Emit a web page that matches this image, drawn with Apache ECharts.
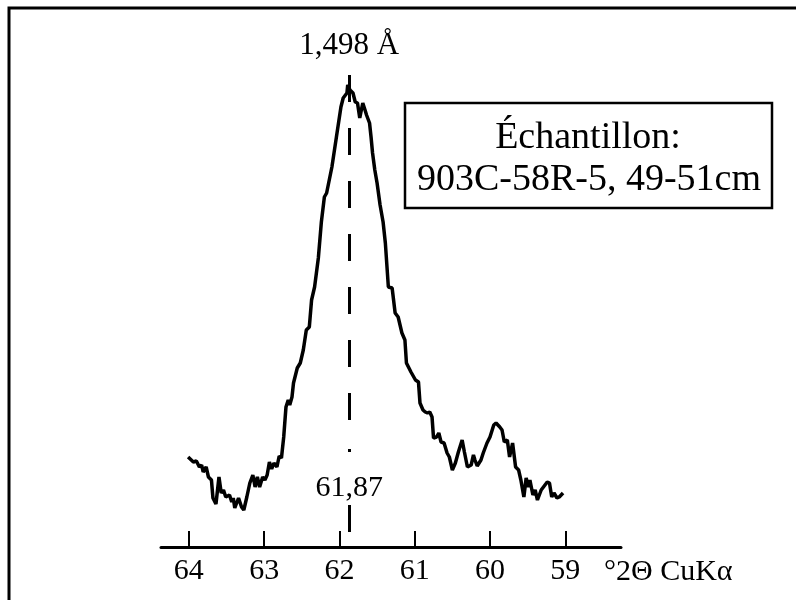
<!DOCTYPE html>
<html>
<head>
<meta charset="utf-8">
<script src="https://cdn.jsdelivr.net/npm/echarts@6/dist/echarts.min.js"></script>
<style>
  html, body { margin: 0; padding: 0; background: #fff; }
  #chart { width: 796px; height: 600px; }
</style>
</head>
<body>
<div id="chart"></div>
<script>
// Diffractogram of the (060) reflection, sample 903C-58R-5, 49-51 cm
const twoTheta = [
  64.01, 63.94, 63.90, 63.86, 63.83, 63.81, 63.77, 63.74, 63.70, 63.68,
  63.64, 63.60, 63.57, 63.54, 63.51, 63.46, 63.43, 63.41, 63.39, 63.34,
  63.30, 63.27, 63.23, 63.19, 63.15, 63.12, 63.09, 63.06, 63.02, 62.99,
  62.96, 62.93, 62.90, 62.87, 62.83, 62.80, 62.77, 62.74, 62.71, 62.68,
  62.66, 62.63, 62.61, 62.56, 62.52, 62.48, 62.44, 62.40, 62.37, 62.33,
  62.28, 62.24, 62.20, 62.17, 62.10, 62.04, 61.98, 61.95, 61.90, 61.89,
  61.86, 61.82, 61.79, 61.76, 61.73, 61.69, 61.66, 61.64, 61.60, 61.58,
  61.56, 61.53, 61.50, 61.46, 61.42, 61.39, 61.35, 61.30, 61.26, 61.22,
  61.17, 61.13, 61.11, 61.05, 60.99, 60.95, 60.93, 60.89, 60.86, 60.83,
  60.80, 60.77, 60.75, 60.71, 60.68, 60.65, 60.61, 60.57, 60.54, 60.50,
  60.46, 60.42, 60.37, 60.34, 60.30, 60.25, 60.22, 60.20, 60.17, 60.12,
  60.09, 60.04, 60.00, 59.95, 59.92, 59.87, 59.84, 59.81, 59.77, 59.74,
  59.70, 59.66, 59.62, 59.59, 59.55, 59.52, 59.49, 59.47, 59.43, 59.40,
  59.37, 59.32, 59.29, 59.24, 59.21, 59.18, 59.15, 59.11, 59.08, 59.03
];
const counts = [
  90, 85, 86, 80, 82, 75, 80, 70, 67, 49,
  43, 70, 54, 57, 50, 52, 45, 49, 39, 49,
  40, 37, 50, 64, 72, 60, 70, 60, 70, 67,
  72, 85, 78, 84, 80, 91, 89, 110, 140, 147,
  142, 150, 164, 179, 184, 197, 217, 220, 247, 260,
  289, 325, 350, 354, 380, 410, 440, 449, 454, 462,
  457, 454, 445, 444, 429, 444, 437, 432, 424, 410,
  394, 377, 364, 342, 325, 304, 260, 259, 234, 230,
  214, 207, 184, 175, 167, 165, 144, 137, 135, 134,
  135, 130, 109, 110, 114, 105, 104, 94, 90, 77,
  84, 95, 107, 95, 80, 82, 92, 87, 81, 87,
  94, 104, 110, 122, 124, 120, 117, 105, 107, 90,
  104, 80, 77, 67, 50, 69, 60, 67, 52, 57,
  47, 57, 60, 65, 64, 50, 54, 49, 50, 54
];

// Axis ticks and peak annotation
const xTicks = [64, 63, 62, 61, 60, 59];
const peakPosition = 61.87;
const peakLabel = '61,87';
const dSpacingLabel = '1,498 Å';
const sampleLines = ['Échantillon:', '903C-58R-5, 49-51cm'];
const axisTitle = '°2Θ CuKα';

const serif = '"Liberation Serif", "DejaVu Serif", serif';
const chart = echarts.init(document.getElementById('chart'), null, { renderer: 'canvas' });

chart.setOption({
  backgroundColor: '#fff',
  animation: false,
  grid: { left: 161, width: 460, top: 47, bottom: 53 },
  xAxis: {
    type: 'value',
    min: 58.26,
    max: 64.37,
    inverse: true,
    axisLine: { show: true, lineStyle: { color: '#000', width: 3 } },
    axisTick: {
      show: true, inside: true, length: 16,
      customValues: xTicks,
      lineStyle: { color: '#000', width: 2 }
    },
    axisLabel: {
      customValues: xTicks,
      color: '#000', fontFamily: serif, fontSize: 30, margin: 9
    },
    splitLine: { show: false }
  },
  yAxis: { type: 'value', min: 0, max: 500, show: false },
  series: [{
    type: 'line',
    data: twoTheta.map((t, i) => [t, counts[i]]),
    showSymbol: false,
    lineStyle: { color: '#000', width: 3.5 },
    z: 3,
    markLine: {
      silent: true,
      symbol: 'none',
      lineStyle: { color: '#000', width: 3, type: [27, 26] },
      data: [
        [
          { coord: [peakPosition, 472],
            label: { show: true, position: 'start', formatter: dSpacingLabel,
                     color: '#000', fontFamily: serif, fontSize: 31, distance: 14 } },
          { coord: [peakPosition, 101] }
        ],
        [
          { coord: [peakPosition, 98], label: { show: false } },
          { coord: [peakPosition, 95] }
        ],
        [
          { coord: [peakPosition, 42],
            label: { show: true, position: 'start', formatter: peakLabel,
                     color: '#000', fontFamily: serif, fontSize: 30, distance: 2 } },
          { coord: [peakPosition, 12] }
        ]
      ]
    }
  }],
  graphic: [
    // page frame (top and left edges)
    { type: 'polyline', shape: { points: [[9, 600], [9, 8], [796, 8]] },
      style: { stroke: '#000', lineWidth: 3, fill: null } },
    // sample box
    { type: 'rect', shape: { x: 405, y: 103, width: 367, height: 105 },
      style: { stroke: '#000', lineWidth: 2.5, fill: '#fff' } },
    { type: 'text',
      style: { text: sampleLines[0], x: 588, y: 138, textAlign: 'center', textVerticalAlign: 'middle',
               font: '38px ' + serif, fill: '#000' } },
    { type: 'text',
      style: { text: sampleLines[1], x: 589, y: 180, textAlign: 'center', textVerticalAlign: 'middle',
               font: '38px ' + serif, fill: '#000' } },
    { type: 'text',
      style: { text: axisTitle, x: 604, y: 572, textAlign: 'left', textVerticalAlign: 'middle',
               font: '30px ' + serif, fill: '#000' } }
  ]
});
</script>
</body>
</html>
